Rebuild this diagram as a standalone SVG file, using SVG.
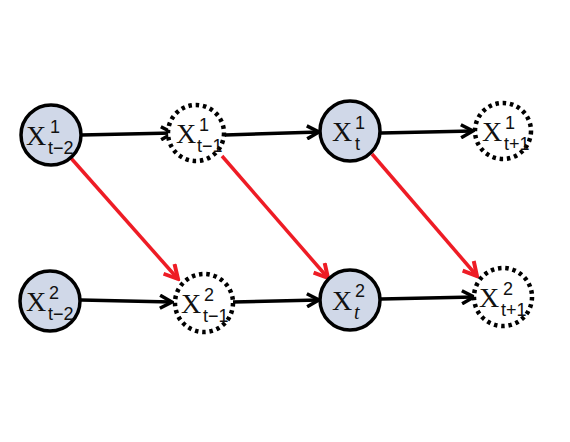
<svg xmlns="http://www.w3.org/2000/svg" width="570" height="442" viewBox="0 0 570 442">
<style>
.solid{fill:#d0d8e8;stroke:#000;stroke-width:3.5}
.dot{fill:#fff;stroke:#000;stroke-width:4.5;stroke-dasharray:3.5 3.8}
.x{font-family:"Liberation Serif","DejaVu Serif",serif;font-size:28px;fill:#111}
.s{font-family:"Liberation Sans","Open Sans",sans-serif;font-size:18px;fill:#111}
.it{font-family:"Liberation Serif",serif;font-style:italic;font-size:20px;fill:#111}
.blk{stroke:#000;stroke-width:3.5;fill:none}
.red{stroke:#ee1c25;stroke-width:3.5;fill:none}
</style>
<defs>
<marker id="ab" viewBox="0 0 16 16" refX="14" refY="8" markerWidth="16" markerHeight="16" markerUnits="userSpaceOnUse" orient="auto">
<polyline points="2,1.5 14,8 2,14.5" fill="none" stroke="#000" stroke-width="3.5"/>
</marker>
<marker id="ar" viewBox="0 0 16 16" refX="14" refY="8" markerWidth="18" markerHeight="18" markerUnits="userSpaceOnUse" orient="auto">
<polyline points="2,1.5 14,8 2,14.5" fill="none" stroke="#ee1c25" stroke-width="3.5"/>
</marker>
</defs>
<g id="connectors">
<line class="blk" x1="81" y1="135" x2="173" y2="133" marker-end="url(#ab)"/>
<line class="blk" x1="225" y1="135" x2="319" y2="132" marker-end="url(#ab)"/>
<line class="blk" x1="381" y1="133" x2="473" y2="131" marker-end="url(#ab)"/>
<line class="blk" x1="81" y1="300" x2="172" y2="302" marker-end="url(#ab)"/>
<line class="blk" x1="233" y1="302" x2="319" y2="300" marker-end="url(#ab)"/>
<line class="blk" x1="381" y1="299" x2="474" y2="297" marker-end="url(#ab)"/>
<line class="red" x1="70" y1="157" x2="178" y2="279" marker-end="url(#ar)"/>
<line class="red" x1="222" y1="156" x2="328" y2="278" marker-end="url(#ar)"/>
<line class="red" x1="372" y1="154" x2="477" y2="276" marker-end="url(#ar)"/>
</g>
<g id="n1">
<circle class="solid" cx="51" cy="135" r="30"/>
<text class="x" x="26" y="145">X</text><text class="s" x="50" y="133">1</text><text class="s" x="48" y="154">t−2</text>
</g>
<g id="n2">
<circle class="dot" cx="196" cy="133" r="28"/>
<text class="x" x="176" y="143">X</text><text class="s" x="199" y="131">1</text><text class="s" x="197" y="152">t−1</text>
</g>
<g id="n3">
<circle class="solid" cx="350" cy="131" r="30"/>
<text class="x" x="332" y="141">X</text><text class="s" x="355" y="129">1</text><text class="s" x="355" y="150">t</text>
</g>
<g id="n4">
<circle class="dot" cx="503" cy="131" r="28"/>
<text class="x" x="482" y="141">X</text><text class="s" x="505" y="129">1</text><text class="s" x="504" y="150">t+1</text>
</g>
<g id="n5">
<circle class="solid" cx="50" cy="301" r="30"/>
<text class="x" x="26" y="311">X</text><text class="s" x="49" y="299">2</text><text class="s" x="48" y="320">t−2</text>
</g>
<g id="n6">
<circle class="dot" cx="204" cy="303" r="29"/>
<text class="x" x="181" y="313">X</text><text class="s" x="204" y="301">2</text><text class="s" x="203" y="322">t−1</text>
</g>
<g id="n7">
<circle class="solid" cx="350" cy="300" r="30"/>
<text class="x" x="332" y="310">X</text><text class="s" x="355" y="297">2</text><text class="it" x="354" y="319">t</text>
</g>
<g id="n8">
<circle class="dot" cx="503" cy="297" r="29"/>
<text class="x" x="479" y="307">X</text><text class="s" x="503" y="295">2</text><text class="s" x="501" y="316">t+1</text>
</g>
</svg>
